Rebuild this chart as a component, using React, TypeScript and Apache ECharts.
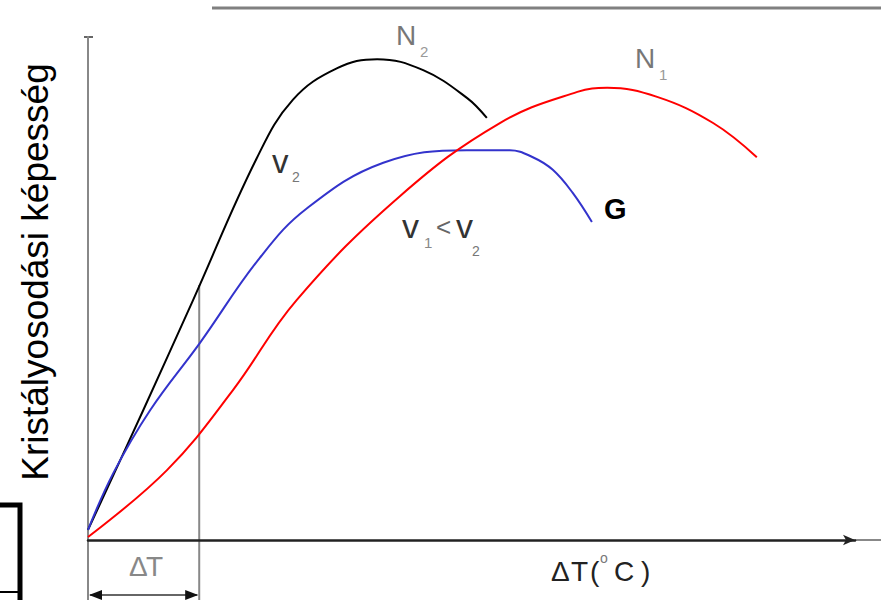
import React, { useEffect, useRef } from "react";
import * as echarts from "echarts";

// Schematic crystallisation-ability curves (x: ΔT in relative units, y: relative ability)
const n2X = [0, 7.2, 13.7, 22.0, 26.7, 32.5, 37.7, 43.7, 49.4, 52.0];
const n2Y = [2.0, 25.8, 47.7, 75.9, 87.5, 93.8, 95.6, 93.4, 87.9, 83.9];

const gX = [0, 3.3, 8.1, 14.6, 22.4, 28.6, 38.5, 49.4, 55.0, 58.0, 60.6, 63.2, 65.7];
const gY = [2.0, 13.3, 25.8, 39.2, 56.1, 66.0, 75.0, 77.5, 77.5, 76.1, 73.6, 69.0, 63.2];

const n1X = [0, 10.3, 18.9, 27.2, 40.7, 53.7, 63.8, 67.7, 74.2, 81.5, 87.2];
const n1Y = [0.6, 13.9, 29.8, 47.7, 68.4, 82.9, 89.1, 89.9, 88.1, 82.9, 76.1];

const deltaTX = 14.5;
const deltaTTopY = 50.7;

const yTitle = "Kristályosodási képesség";

const zip = (xs: number[], ys: number[]) => xs.map((x, i) => [x, ys[i]]);

const FONT = "Liberation Sans, Arial, sans-serif";

export default function App() {
  const ref = useRef<HTMLDivElement>(null);
  useEffect(() => {
    if (!ref.current) return;
    const chart = echarts.init(ref.current, null, { renderer: "svg" });
    chart.setOption({
      animation: false,
      backgroundColor: "#ffffff",
      grid: { left: 88, top: 37, right: 26, bottom: 60 },
      xAxis: {
        type: "value",
        min: 0,
        max: 100,
        axisLine: {
          show: true,
          lineStyle: { color: "#222", width: 2.5 },
          symbol: ["none", "arrow"],
          symbolSize: [8, 12],
        },
        axisTick: { show: false },
        axisLabel: { show: false },
        splitLine: { show: false },
      },
      yAxis: {
        type: "value",
        min: 0,
        max: 100,
        axisLine: { show: true, lineStyle: { color: "#888", width: 2 } },
        axisTick: { show: false },
        axisLabel: { show: false },
        splitLine: { show: false },
      },
      series: [
        {
          name: "N2",
          type: "line",
          data: zip(n2X, n2Y),
          smooth: 0.4,
          showSymbol: false,
          lineStyle: { color: "#000", width: 2 },
          z: 3,
        },
        {
          name: "G",
          type: "line",
          data: zip(gX, gY),
          smooth: 0.4,
          showSymbol: false,
          lineStyle: { color: "#3333cc", width: 2 },
          z: 4,
        },
        {
          name: "N1",
          type: "line",
          data: zip(n1X, n1Y),
          smooth: 0.4,
          showSymbol: false,
          lineStyle: { color: "#ff0000", width: 2 },
          z: 5,
        },
      ],
    });

    const top = chart.convertToPixel({ gridIndex: 0 }, [deltaTX, deltaTTopY]) as number[];
    const origin = chart.convertToPixel({ gridIndex: 0 }, [0, 0]) as number[];
    const yTop = chart.convertToPixel({ gridIndex: 0 }, [0, 100]) as number[];
    const xEnd = chart.convertToPixel({ gridIndex: 0 }, [100, 0]) as number[];

    const txt = (x: number, y: number, text: string, size: number, color: string, weight = "normal") => ({
      type: "text",
      x,
      y,
      style: { text, fontSize: size, fill: color, fontFamily: FONT, fontWeight: weight, textVerticalAlign: "top" },
    });

    chart.setOption({
      graphic: [
        // top gray rule
        { type: "line", shape: { x1: 212, y1: 8, x2: 881, y2: 8 }, style: { stroke: "#808080", lineWidth: 3 } },
        // y axis top cap
        { type: "line", shape: { x1: origin[0] - 4, y1: yTop[1], x2: origin[0] + 5, y2: yTop[1] }, style: { stroke: "#333", lineWidth: 1.5 } },
        // y axis continuation below origin
        { type: "line", shape: { x1: origin[0], y1: origin[1], x2: origin[0], y2: 600 }, style: { stroke: "#888", lineWidth: 2 } },
        // x axis continuation beyond the arrow
        { type: "line", shape: { x1: xEnd[0], y1: xEnd[1], x2: 881, y2: xEnd[1] }, style: { stroke: "#888", lineWidth: 2 } },
        // ΔT vertical line
        { type: "line", shape: { x1: top[0], y1: top[1], x2: top[0], y2: 600 }, style: { stroke: "#888", lineWidth: 2 } },
        // ΔT dimension arrow
        { type: "line", shape: { x1: origin[0] + 2, y1: 595, x2: top[0] - 2, y2: 595 }, style: { stroke: "#666", lineWidth: 2 } },
        { type: "polygon", shape: { points: [[origin[0] + 1, 595], [origin[0] + 14, 590], [origin[0] + 14, 600]] }, style: { fill: "#111" } },
        { type: "polygon", shape: { points: [[top[0] - 1, 595], [top[0] - 14, 590], [top[0] - 14, 600]] }, style: { fill: "#111" } },
        // left boxed fragment
        { type: "rect", shape: { x: -5, y: 505, width: 25, height: 100 }, style: { fill: "none", stroke: "#000", lineWidth: 5 } },
        { type: "line", shape: { x1: 0, y1: 592, x2: 18, y2: 592 }, style: { stroke: "#000", lineWidth: 2 } },
        // y title
        {
          type: "text",
          x: 35,
          y: 272,
          rotation: Math.PI / 2,
          style: { text: yTitle, fontSize: 37, fill: "#000", fontFamily: FONT, textAlign: "center", textVerticalAlign: "middle" },
        },
        // x title, ΔT(°C)
        txt(551, 557, "Δ", 28, "#222"),
        txt(571, 557, "T", 28, "#222"),
        txt(590, 557, "(", 28, "#222"),
        txt(600, 551, "o", 14, "#777"),
        txt(614, 557, "C", 28, "#222"),
        txt(641, 557, ")", 28, "#222"),
        // ΔT under the dimension arrow
        txt(129, 552, "Δ", 28, "#888"),
        txt(146, 552, "T", 28, "#888"),
        // curve labels
        txt(396, 21, "N", 28, "#777"),
        txt(420, 44, "2", 15, "#999"),
        txt(635, 44, "N", 28, "#777"),
        txt(659, 67, "1", 15, "#999"),
        txt(272, 145, "v", 33, "#333"),
        txt(292, 170, "2", 14, "#777"),
        txt(402, 209, "v", 34, "#333"),
        txt(424, 235, "1", 15, "#888"),
        {
          type: "text",
          x: 436,
          y: 227,
          style: { text: "<", fontSize: 26, fill: "#666", fontFamily: FONT, textVerticalAlign: "middle" },
        },
        txt(456, 209, "v", 34, "#333"),
        txt(472, 244, "2", 14, "#777"),
        txt(604, 194, "G", 29, "#000", "bold"),
      ],
    });

    return () => chart.dispose();
  }, []);
  return <div ref={ref} style={{ position: "fixed", left: 0, top: 0, width: 881, height: 600 }} />;
}
